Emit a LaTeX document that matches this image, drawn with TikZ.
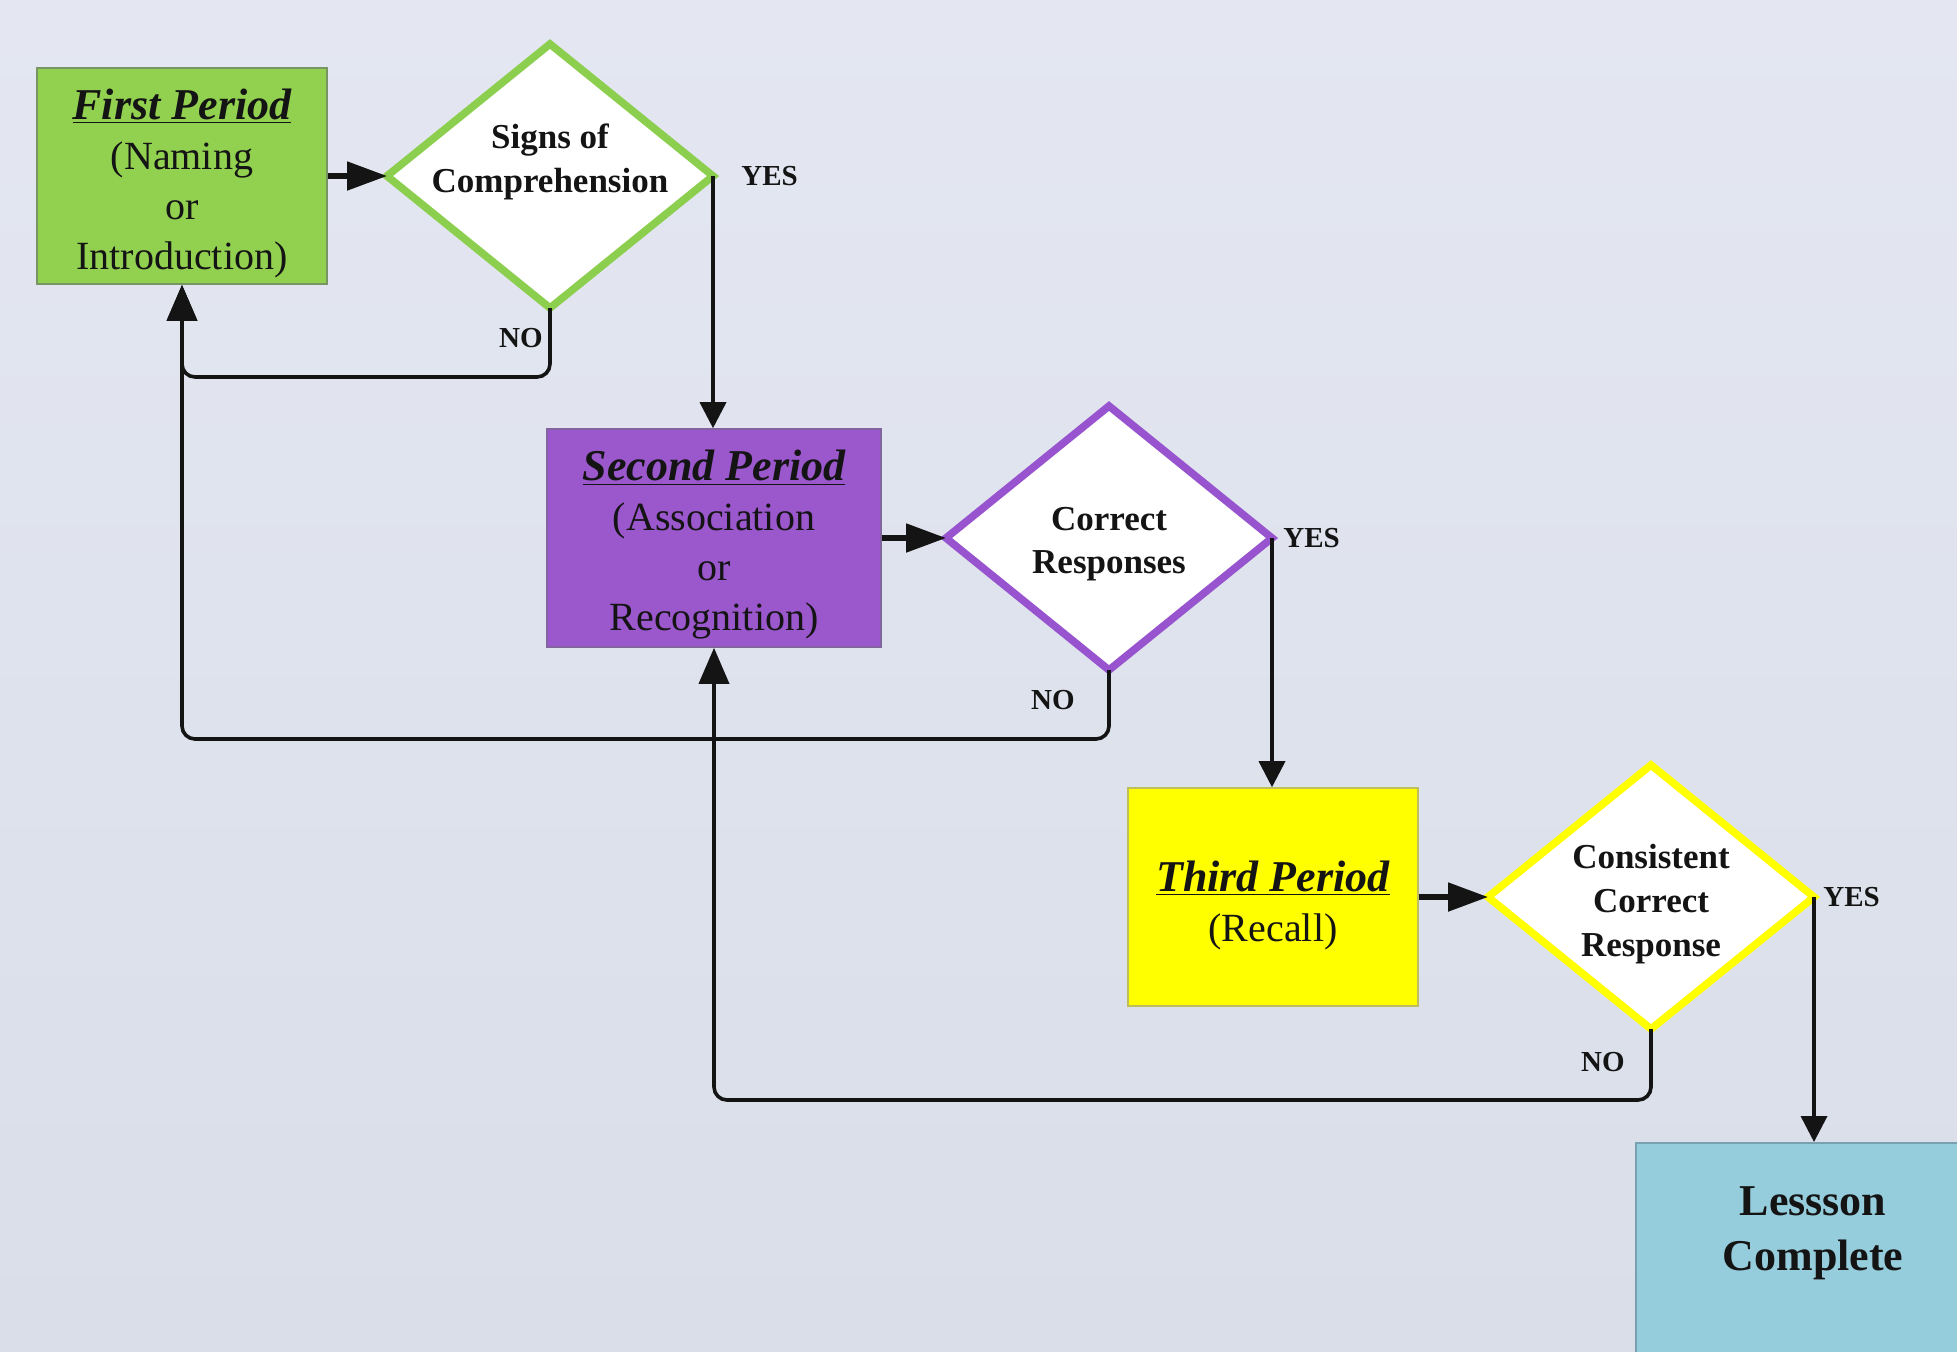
\documentclass[tikz,border=0pt]{standalone}
\usepackage{fontspec}
\setmainfont{Liberation Serif}
\usetikzlibrary{shapes.geometric,arrows.meta,calc}

\definecolor{bgtop}{RGB}{228,231,241}
\definecolor{bgbot}{RGB}{217,222,232}
\definecolor{greenfill}{RGB}{146,208,80}
\definecolor{greenedge}{RGB}{120,150,100}
\definecolor{greenline}{RGB}{140,206,78}
\definecolor{purplefill}{RGB}{155,87,204}
\definecolor{purpleedge}{RGB}{130,100,160}
\definecolor{purpleline}{RGB}{152,84,206}
\definecolor{yellowfill}{RGB}{255,255,0}
\definecolor{yellowedge}{RGB}{190,190,90}
\definecolor{yellowline}{RGB}{255,255,0}
\definecolor{bluefill}{RGB}{150,205,220}
\definecolor{blueedge}{RGB}{120,160,175}
\definecolor{ink}{RGB}{20,20,20}

% bold italic underlined period heading
\newcommand\phead[1]{{\fontsize{22}{25}\selectfont\bfseries\itshape\underline{#1}}}

\begin{document}
\begin{tikzpicture}[x=0.5pt,y=-0.5pt,
  period/.style={rectangle, draw, line width=0.8pt, inner sep=0pt,
     minimum width=145pt, minimum height=108pt},
  ptext/.style={align=center, inner sep=0pt, text=ink, font=\fontsize{20}{25}\selectfont},
  decision/.style={diamond, fill=white, line width=3.8pt, inner sep=0pt, outer sep=0pt,
     minimum width=163pt, minimum height=132pt},
  dtext/.style={align=center, inner sep=0pt, text=ink, font=\bfseries\fontsize{17.5}{21.8}\selectfont},
  yn/.style={inner sep=0pt, text=ink, font=\bfseries\fontsize{14.5}{17}\selectfont},
  conn/.style={line width=1.8pt, draw=ink},
  into/.style={conn, line width=2.6pt, -{Triangle[length=20pt,width=14pt]}},
  yes/.style={conn, -{Triangle[length=13pt,width=13pt]}},
  back/.style={conn, rounded corners=6.5pt, -{Triangle[length=18pt,width=15pt]}},
]
% canvas and background
\useasboundingbox (0,0) rectangle (1957,1351);
\clip (0,0) rectangle (1957,1351);
\shade[top color=bgtop, bottom color=bgbot] (0,0) rectangle (1957,1351);

% periods
\node[period, fill=greenfill, draw=greenedge] (b1) at (182,176) {};
\node[ptext] (p1) at ($(b1)+(0,7)$) {\phead{First Period}\\(Naming\\or\\Introduction)};
\node[period, fill=purplefill, draw=purpleedge, minimum width=167pt, minimum height=109pt] (b2) at (714,538) {};
\node[ptext] (p2) at ($(b2)+(0,7)$) {\phead{Second Period}\\(Association\\or\\Recognition)};
\node[period, fill=yellowfill, draw=yellowedge, minimum height=109pt] (b3) at (1273,897) {};
\node[ptext] (p3) at ($(b3)+(0,8)$) {\phead{Third Period}\\(Recall)};
\node[rectangle, fill=bluefill, draw=blueedge, line width=0.8pt, anchor=north west,
  minimum width=200pt, minimum height=150pt] (b4) at (1635,1142) {};
\node[align=center, inner sep=0pt, text=ink, font=\bfseries\fontsize{22}{27.5}\selectfont]
  (t4) at (1813,1233) {Lessson\\Complete};

% decisions
\node[decision, draw=greenline] (d1) at (550,176) {};
\node[dtext] (t1) at ($(d1)+(0,-14)$) {Signs of\\Comprehension};
\node[decision, draw=purpleline] (d2) at (1109,538) {};
\node[dtext] (t2) at ($(d2)+(0,6)$) {Correct\\Responses};
\node[decision, draw=yellowline] (d3) at (1651,897) {};
\node[dtext] (t3) at ($(d3)+(0,7)$) {Consistent\\Correct\\Response};

% forward arrows
\draw[into] (b1.east) -- (d1.west);
\draw[into] (b2.east) -- (d2.west);
\draw[into] (b3.east) -- (d3.west);

% yes branches
\draw[yes] (d1.east) -- (d1.east |- b2.north);
\draw[yes] (d2.east) -- (d2.east |- b3.north);
\draw[yes] (d3.east) -- (d3.east |- b4.north);

% no branches loop back
\coordinate (r1) at (0,377);
\coordinate (r2) at (0,739);
\coordinate (r3) at (0,1100);
\draw[back] (d1.south) -- (d1.south |- r1) -| (b1.south);
\draw[back] (d2.south) -- (d2.south |- r2) -| (b1.south);
\draw[back] (d3.south) -- (d3.south |- r3) -| (b2.south);

% branch labels
\node[yn, anchor=west] (y1) at (741,176) {YES};
\node[yn, anchor=west] (y2) at (1283,538) {YES};
\node[yn, anchor=west] (y3) at (1823,897) {YES};
\node[yn, anchor=east] (n1) at (543,338) {NO};
\node[yn, anchor=east] (n2) at (1075,700) {NO};
\node[yn, anchor=east] (n3) at (1625,1062) {NO};
\end{tikzpicture}
\end{document}
